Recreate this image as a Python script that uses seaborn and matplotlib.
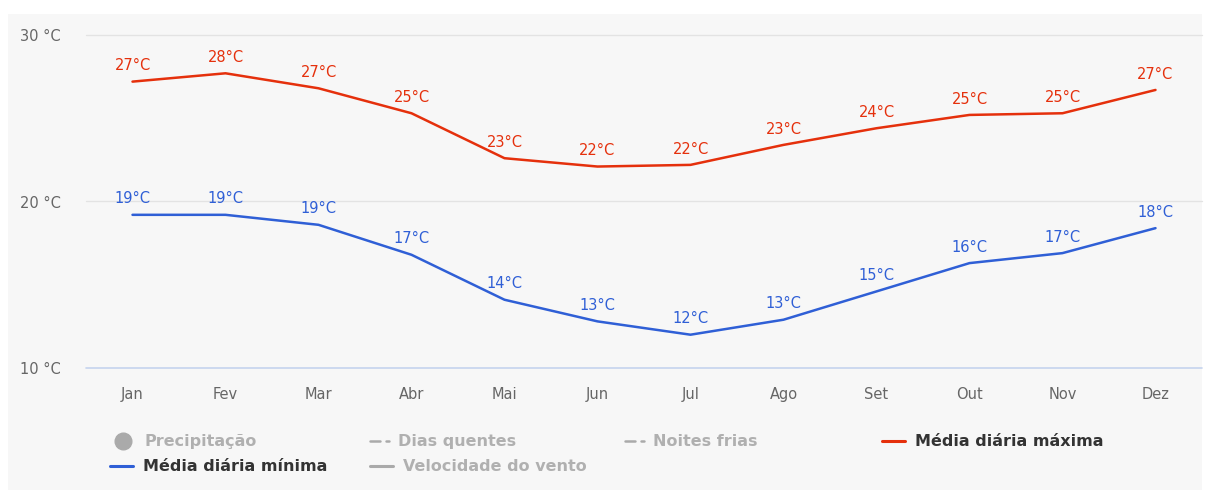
import seaborn as sns
import numpy as np
import pandas as pd
import matplotlib.pyplot as plt
from matplotlib.patches import Rectangle
from matplotlib.lines import Line2D

sns.set_theme(style="white")
plt.rcParams['font.family'] = ['DejaVu Sans']

meses = ["Jan", "Fev", "Mar", "Abr", "Mai", "Jun", "Jul", "Ago", "Set", "Out", "Nov", "Dez"]
t_max = [27.2, 27.7, 26.8, 25.3, 22.6, 22.1, 22.2, 23.4, 24.4, 25.2, 25.3, 26.7]
t_min = [19.2, 19.2, 18.6, 16.8, 14.1, 12.8, 12.0, 12.9, 14.6, 16.3, 16.9, 18.4]
y_ticks = [10, 20, 30]

cor_max = "#e5300c"
cor_min = "#2f5fd6"

df = pd.DataFrame({
    "mes": meses * 2,
    "temp": t_max + t_min,
    "serie": ["Média diária máxima"] * 12 + ["Média diária mínima"] * 12,
})

fig = plt.figure(figsize=(12.06, 4.94), dpi=100)
fig.patch.set_facecolor("white")
# painel cinza de fundo
fig.patches.append(Rectangle((8 / 1206, 1 - 490 / 494), 1194 / 1206, 476 / 494,
                             transform=fig.transFigure, facecolor="#f7f7f7",
                             edgecolor="none", zorder=-5))

ax = fig.add_axes([86 / 1206, 1 - 368 / 494, 1116 / 1206, 333 / 494])
ax.set_facecolor("none")

sns.lineplot(data=df, x="mes", y="temp", hue="serie", sort=False,
             palette={"Média diária máxima": cor_max, "Média diária mínima": cor_min},
             linewidth=1.8, legend=False, ax=ax)

for vals, cor in [(t_max, cor_max), (t_min, cor_min)]:
    for i, v in enumerate(vals):
        ax.annotate(f"{int(round(v))}°C", (i, v), xytext=(0, 6), textcoords="offset points",
                    ha="center", va="bottom", color=cor, fontsize=10.5, clip_on=False)

ax.set_xlim(-0.5, 11.5)
ax.set_ylim(10, 30)
ax.set_yticks(y_ticks)
ax.set_yticklabels([f"{t} °C" for t in y_ticks])
for t in [20, 30]:
    ax.axhline(t, color="#e3e3e3", linewidth=1, zorder=0, clip_on=False)
ax.axhline(10, color="#c5d3ee", linewidth=1.2, zorder=0, clip_on=False)
for s in ax.spines.values():
    s.set_visible(False)
ax.set_xlabel("")
ax.set_ylabel("")
ax.tick_params(axis="x", colors="#666666", labelsize=10.5, length=0, pad=14)
ax.tick_params(axis="y", colors="#666666", labelsize=10.5, length=0, pad=0)
for lab in ax.get_yticklabels():
    lab.set_horizontalalignment("left")
    lab.set_x(-66 / 1116)

# legenda manual (Highcharts)
H = 494
W = 1206
def fx(px):
    return px / W
def fy(py):
    return 1 - py / H

itens = [
    (123, 441, "marker", "#aaaaaa", "Precipitação", "#b0b0b0"),
    (370, 441, "dashdot", "#aaaaaa", "Dias quentes", "#b0b0b0"),
    (625, 441, "dashdot", "#aaaaaa", "Noites frias", "#b0b0b0"),
    (882, 441, "line", cor_max, "Média diária máxima", "#333333"),
    (110, 466, "line", cor_min, "Média diária mínima", "#333333"),
    (370, 466, "line", "#aaaaaa", "Velocidade do vento", "#b0b0b0"),
]
for x0, y0, kind, cor, texto, cor_txt in itens:
    if kind == "marker":
        fig.lines.append(Line2D([fx(x0)], [fy(y0)], marker="o", markersize=12,
                                color=cor, transform=fig.transFigure))
        tx = x0 + 22
    elif kind == "dashdot":
        fig.lines.append(Line2D([fx(x0), fx(x0 + 10)], [fy(y0), fy(y0)], color=cor,
                                linewidth=1.8, transform=fig.transFigure))
        fig.lines.append(Line2D([fx(x0 + 16), fx(x0 + 19)], [fy(y0), fy(y0)], color=cor,
                                linewidth=1.8, transform=fig.transFigure))
        tx = x0 + 28
    else:
        fig.lines.append(Line2D([fx(x0), fx(x0 + 23)], [fy(y0), fy(y0)], color=cor,
                                linewidth=2.2, transform=fig.transFigure))
        tx = x0 + 33
    fig.text(fx(tx), fy(y0), texto, color=cor_txt, fontsize=11.5, fontweight="bold",
             ha="left", va="center")

fig.savefig("out.png", dpi=100)
